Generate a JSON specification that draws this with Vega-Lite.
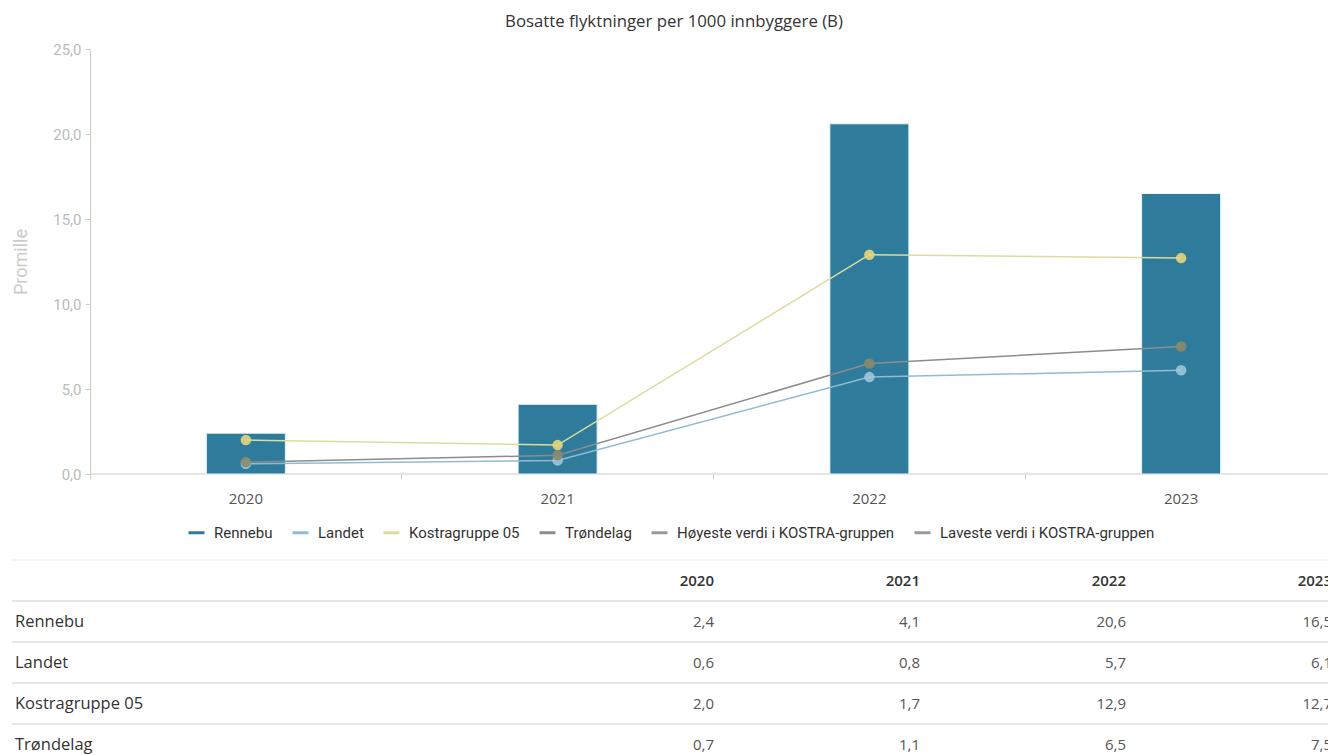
{
  "$schema": "https://vega.github.io/schema/vega-lite/v6.json",
  "padding": {"left": 10, "top": 14, "right": 0, "bottom": 0},
  "background": "#ffffff",
  "title": {"text": "Bosatte flyktninger per 1000 innbyggere (B)", "font": "Open Sans", "fontSize": 16.8, "fontWeight": "normal", "color": "#333333", "anchor": "middle", "offset": 11},
  "config": {
    "view": {"stroke": null},
    "locale": {"number": {"decimal": ",", "thousands": " ", "grouping": [3], "currency": ["", ""]}}
  },
  "datasets": {
    "d": [
      {"serie": "Rennebu", "aar": 2020, "verdi": 2.4},
      {"serie": "Rennebu", "aar": 2021, "verdi": 4.1},
      {"serie": "Rennebu", "aar": 2022, "verdi": 20.6},
      {"serie": "Rennebu", "aar": 2023, "verdi": 16.5},
      {"serie": "Landet", "aar": 2020, "verdi": 0.6},
      {"serie": "Landet", "aar": 2021, "verdi": 0.8},
      {"serie": "Landet", "aar": 2022, "verdi": 5.7},
      {"serie": "Landet", "aar": 2023, "verdi": 6.1},
      {"serie": "Kostragruppe 05", "aar": 2020, "verdi": 2.0},
      {"serie": "Kostragruppe 05", "aar": 2021, "verdi": 1.7},
      {"serie": "Kostragruppe 05", "aar": 2022, "verdi": 12.9},
      {"serie": "Kostragruppe 05", "aar": 2023, "verdi": 12.7},
      {"serie": "Trøndelag", "aar": 2020, "verdi": 0.7},
      {"serie": "Trøndelag", "aar": 2021, "verdi": 1.1},
      {"serie": "Trøndelag", "aar": 2022, "verdi": 6.5},
      {"serie": "Trøndelag", "aar": 2023, "verdi": 7.5}
    ]
  },
  "spacing": 53,
  "vconcat": [
    {
      "width": 1239,
      "height": 425,
      "data": {"name": "d"},
      "layer": [
        {
          "data": {"values": [{}]},
          "mark": {"type": "rule", "color": "#cccccc", "strokeWidth": 1},
          "encoding": {"y": {"datum": 0, "type": "quantitative"}}
        },
        {
          "transform": [{"filter": "datum.serie === 'Rennebu'"}],
          "mark": {"type": "bar", "width": {"band": 0.2535}, "stroke": "#e8f4f8", "strokeWidth": 1},
          "encoding": {
            "x": {
              "field": "aar", "type": "nominal",
              "scale": {"range": [0, 1247], "paddingInner": 0, "paddingOuter": 0},
              "axis": {"orient": "bottom", "title": null, "domain": false, "ticks": false, "tickSize": 0, "labelAngle": 0, "labelFont": "Open Sans", "labelFontSize": 15, "labelColor": "#555555", "labelPadding": 17}
            },
            "y": {
              "field": "verdi", "type": "quantitative",
              "scale": {"domain": [0, 25], "nice": false},
              "axis": {"values": [0, 5, 10, 15, 20, 25], "format": ".1f", "grid": false, "title": "Promille", "titleFont": "Roboto", "titleFontSize": 18, "titleFontWeight": "normal", "titleColor": "#cccccc", "titlePadding": 22, "labelFont": "Roboto", "labelFontSize": 15, "labelColor": "#bbbbbb", "labelPadding": 4, "tickSize": 5, "tickColor": "#cccccc", "domainColor": "#cccccc"}
            },
            "color": {
              "field": "serie", "type": "nominal",
              "scale": {
                "domain": ["Rennebu", "Landet", "Kostragruppe 05", "Trøndelag", "Høyeste verdi i KOSTRA-gruppen", "Laveste verdi i KOSTRA-gruppen"],
                "range": ["#2f7b9b", "#8fbcd2", "#dcdca0", "#8c8c8c", "#999999", "#999999"]
              },
              "legend": {
                "title": null, "orient": "none", "legendX": 97, "legendY": 474, "direction": "horizontal",
                "symbolType": "stroke", "symbolStrokeWidth": 3, "symbolSize": 256,
                "labelFont": "Roboto", "labelFontSize": 15, "labelLimit": 400, "labelColor": "#333333", "labelOffset": 8, "columnPadding": 13,
                "encode": {
                  "labels": {"update": {"fill": {"signal": "test(/KOSTRA-gruppen/, datum.label) ? '#aaaaaa' : '#333333'"}}},
                  "symbols": {"update": {"stroke": {"signal": "datum.value === 'Rennebu' ? '#2f7b9b' : datum.value === 'Landet' ? '#7fb4cc' : datum.value === 'Kostragruppe 05' ? '#d8dca0' : datum.value === 'Trøndelag' ? '#666666' : '#888888'"}}}
                }
              }
            }
          }
        },
        {
          "transform": [{"filter": "datum.serie !== 'Rennebu'"}],
          "mark": {"type": "line", "strokeWidth": 1.5},
          "encoding": {
            "x": {"field": "aar", "type": "nominal", "axis": {"orient": "bottom", "title": null, "labels": false, "domain": false, "ticks": true, "tickSize": 5, "tickColor": "#cccccc", "bandPosition": 0}},
            "y": {"field": "verdi", "type": "quantitative"},
            "color": {"field": "serie", "type": "nominal"}
          }
        },
        {
          "transform": [{"filter": "datum.serie !== 'Rennebu'"}],
          "mark": {"type": "point", "filled": true, "size": 110, "opacity": 0.9},
          "encoding": {
            "x": {"field": "aar", "type": "nominal", "axis": null},
            "y": {"field": "verdi", "type": "quantitative"},
            "fill": {
              "field": "serie", "type": "nominal", "legend": null,
              "scale": {"domain": ["Landet", "Kostragruppe 05", "Trøndelag"], "range": ["#9ec6da", "#e3d67e", "#8a8a6c"]}
            }
          }
        }
      ],
      "resolve": {"axis": {"x": "independent"}}
    },
    {
      "width": 1239,
      "height": 195,
      "data": {"name": "d"},
      "encoding": {
        "y": {
          "field": "serie", "type": "nominal", "axis": null,
          "scale": {"domain": ["header", "Rennebu", "Landet", "Kostragruppe 05", "Trøndelag"], "range": [0, 205], "paddingInner": 0, "paddingOuter": 0}
        }
      },
      "layer": [
        {
          "data": {"values": [{}]},
          "mark": {"type": "rule", "color": "#f2f2f2", "strokeWidth": 1.5},
          "encoding": {
            "x": {"datum": 2016.5922, "type": "quantitative", "axis": null, "scale": {"domain": [2020, 2023], "range": [624, 1242], "nice": false, "zero": false}},
            "x2": {"datum": 2022.98},
            "y": {"datum": "header", "type": "nominal", "bandPosition": 0}
          }
        },
        {
          "transform": [{"filter": "datum.aar === 2020"}],
          "mark": {"type": "rule", "color": "#e6e6e6", "strokeWidth": 2},
          "encoding": {
            "x": {"datum": 2016.5922, "type": "quantitative"},
            "x2": {"datum": 2022.98},
            "y": {"field": "serie", "type": "nominal", "bandPosition": 0}
          }
        },
        {
          "transform": [{"filter": "datum.serie === 'Rennebu'"}],
          "mark": {"type": "text", "align": "right", "baseline": "middle", "font": "Open Sans", "fontSize": 15, "fontWeight": 600, "color": "#333333", "clip": true},
          "encoding": {
            "x": {"field": "aar", "type": "quantitative"},
            "y": {"datum": "header", "type": "nominal"},
            "text": {"field": "aar", "type": "nominal"}
          }
        },
        {
          "mark": {"type": "text", "align": "right", "baseline": "middle", "font": "Open Sans", "fontSize": 15, "color": "#555555", "clip": true},
          "encoding": {
            "x": {"field": "aar", "type": "quantitative"},
            "text": {"field": "verdi", "type": "quantitative", "format": ".1f"}
          }
        },
        {
          "transform": [{"filter": "datum.aar === 2020"}],
          "mark": {"type": "text", "align": "left", "baseline": "middle", "font": "Open Sans", "fontSize": 16.5, "color": "#333333"},
          "encoding": {
            "x": {"datum": 2016.6068, "type": "quantitative"},
            "text": {"field": "serie", "type": "nominal"}
          }
        }
      ]
    }
  ]
}
